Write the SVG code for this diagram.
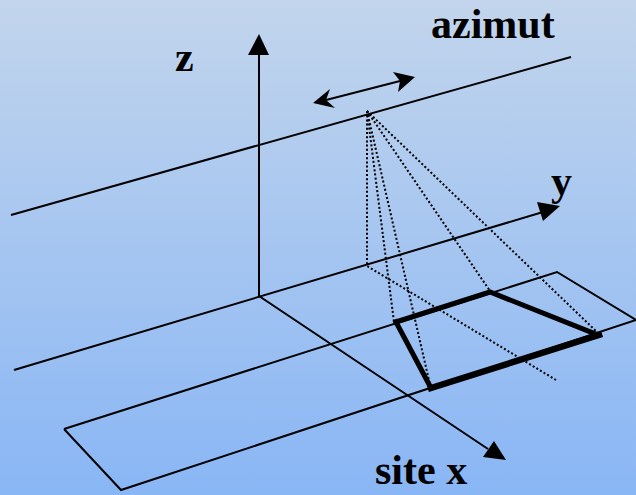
<svg xmlns="http://www.w3.org/2000/svg" width="636" height="495" viewBox="0 0 636 495">
<style>
.l{fill:none;stroke:#000;stroke-width:2}
.d{fill:none;stroke:#000;stroke-width:2;stroke-dasharray:2 2.2}
.b{fill:none;stroke:#000;stroke-width:5;stroke-linecap:square}
.h{fill:#000;stroke:none}
text{font-family:"Liberation Serif",serif;font-weight:bold;font-size:42px;fill:#000}
</style>
<defs><linearGradient id="g" x1="0" y1="0" x2="0" y2="1"><stop offset="0" stop-color="#c2d5ec"/><stop offset="1" stop-color="#89b6f5"/></linearGradient></defs>
<rect width="636" height="495" fill="url(#g)"/>
<g id="connectors">
<path class="l" d="M11 215L571 57"/>
<path class="l" d="M14 370L543 212"/>
<path class="l" d="M259 50V296L488 449"/>
<path class="l" d="M326 100L400 81"/>
<path class="l" d="M64 429L121 490L636 320L557 272L64 429"/>
<path class="d" d="M367 111V266L556 380"/>
<path class="d" d="M367 111L431 389"/>
<path class="d" d="M367 111L394 322"/>
<path class="d" d="M367 111L490 291"/>
<path class="d" d="M367 111L598 333"/>
<path class="b" d="M396 322L490 292L598 335"/>
<path class="b" d="M396 322L431 388"/>
<path class="b" style="stroke-width:6.5" d="M431 388L599 335"/>
<polygon class="h" points="259,34 269,55 248,55"/>
<polygon class="h" points="560,206 543,221 537,202"/>
<polygon class="h" points="506,460 483,457 494,441"/>
<polygon class="h" points="415,77 398,92 400,81 393,72"/>
<polygon class="h" points="313,103 330,89 326,100 335,108"/>
</g>
<g id="z"><text x="175" y="71">z</text></g>
<g id="azimut"><text x="431" y="38">azimut</text></g>
<g id="y"><text x="551" y="195">y</text></g>
<g id="site"><text x="375" y="484">site x</text></g>
</svg>
